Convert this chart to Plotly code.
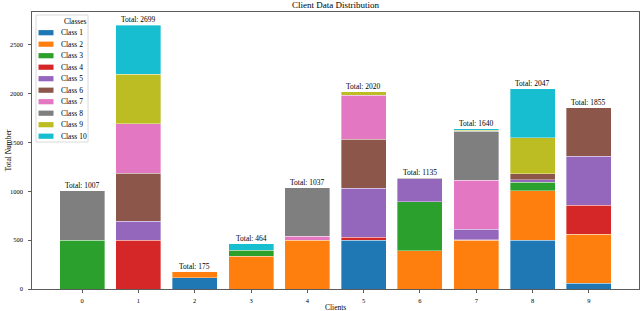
import plotly.graph_objects as go

clients = [str(i) for i in range(10)]
class_names = ["Class 1", "Class 2", "Class 3", "Class 4", "Class 5",
               "Class 6", "Class 7", "Class 8", "Class 9", "Class 10"]
colors = ["#1f77b4", "#ff7f0e", "#2ca02c", "#d62728", "#9467bd",
          "#8c564b", "#e377c2", "#7f7f7f", "#bcbd22", "#17becf"]

class1 = [0, 0, 115, 0, 0, 500, 0, 0, 500, 58]
class2 = [0, 0, 60, 337, 500, 0, 391, 500, 503, 503]
class3 = [500, 0, 0, 62, 0, 0, 500, 5, 89, 0]
class4 = [0, 500, 0, 0, 0, 28, 0, 0, 0, 296]
class5 = [0, 192, 0, 0, 0, 503, 239, 107, 27, 500]
class6 = [0, 492, 0, 0, 0, 500, 0, 0, 58, 498]
class7 = [0, 506, 0, 0, 41, 449, 0, 500, 0, 0]
class8 = [507, 2, 0, 0, 496, 0, 5, 503, 3, 0]
class9 = [0, 507, 0, 0, 0, 40, 0, 10, 368, 0]
class10 = [0, 500, 0, 65, 0, 0, 0, 15, 499, 0]
series = [class1, class2, class3, class4, class5,
          class6, class7, class8, class9, class10]

totals = [sum(s[i] for s in series) for i in range(len(clients))]

FONT = "Liberation Serif"
W, H = 640, 311
L, R, T, B = 32, 1, 12, 22
pw, ph = W - L - R, H - T - B


def px(x):
    return (x - L) / pw


def py(y):
    return (H - B - y) / ph


fig = go.Figure()
xs = list(range(len(clients)))
for name, col, vals in zip(class_names, colors, series):
    fig.add_trace(go.Bar(
        x=xs, y=[v if v else None for v in vals], name=name,
        marker=dict(color=col, line=dict(width=0.6, color="rgba(255,255,255,0.6)")),
        width=0.8, showlegend=False))

annotations = []
for i, t in enumerate(totals):
    annotations.append(dict(x=i, y=t, xref="x", yref="y", text=f"Total: {t}",
                            showarrow=False, yanchor="bottom", yshift=-1,
                            font=dict(family=FONT, size=7.5, color="black")))

# axis titles and chart title
annotations.append(dict(x=0.5, y=py(307), xref="paper", yref="paper", text="Clients",
                        showarrow=False, yanchor="middle",
                        font=dict(family=FONT, size=7.5, color="black")))
annotations.append(dict(x=px(8), y=0.5, xref="paper", yref="paper", text="Total Number",
                        showarrow=False, textangle=-90, xanchor="center",
                        font=dict(family=FONT, size=7.5, color="black")))
annotations.append(dict(x=0.5, y=py(5), xref="paper", yref="paper",
                        text="Client Data Distribution", showarrow=False,
                        yanchor="middle",
                        font=dict(family=FONT, size=9, color="black")))

# custom legend
shapes = [dict(type="rect", xref="paper", yref="paper",
               x0=px(36), x1=px(88), y0=py(142), y1=py(15),
               line=dict(color="#d0d0d0", width=0.8), fillcolor="rgba(255,255,255,0.85)",
               layer="above")]
annotations.append(dict(x=px(61.5), y=py(21), xref="paper", yref="paper", text="Classes",
                        showarrow=False, yanchor="middle",
                        font=dict(family=FONT, size=7.5, color="black")))
for k, (name, col) in enumerate(zip(class_names, colors)):
    cy = 32.7 + 11.5 * k
    shapes.append(dict(type="rect", xref="paper", yref="paper",
                       x0=px(38.5), x1=px(53.5), y0=py(cy + 2.6), y1=py(cy - 2.6),
                       line=dict(width=0), fillcolor=col, layer="above"))
    annotations.append(dict(x=px(59), y=py(cy), xref="paper", yref="paper", text=name,
                            showarrow=False, xanchor="left", yanchor="middle",
                            font=dict(family=FONT, size=7.5, color="black")))

axis_common = dict(showline=True, mirror=True, linecolor="#333333", linewidth=0.8,
                   ticks="outside", ticklen=3, tickwidth=0.8, tickcolor="#333333",
                   showgrid=False, zeroline=False, automargin=False,
                   tickfont=dict(family=FONT, size=6.5, color="black"))

fig.update_layout(
    width=W, height=H,
    margin=dict(l=L, r=R, t=T, b=B, pad=0),
    barmode="stack", bargap=0.2,
    plot_bgcolor="white", paper_bgcolor="white",
    xaxis=dict(range=[-0.89, 9.89], tickmode="array", tickvals=xs, ticktext=clients,
               ticklabelstandoff=2, **axis_common),
    yaxis=dict(range=[0, 2834], tickmode="array", tickvals=[0, 500, 1000, 1500, 2000, 2500],
               ticklabelstandoff=4, **axis_common),
    annotations=annotations, shapes=shapes,
    showlegend=False,
    hovermode=False,
)

fig.write_html("out.html",
               config={"displayModeBar": False, "staticPlot": True},
               post_script="document.body.style.margin='0px';document.body.style.padding='0px';")
